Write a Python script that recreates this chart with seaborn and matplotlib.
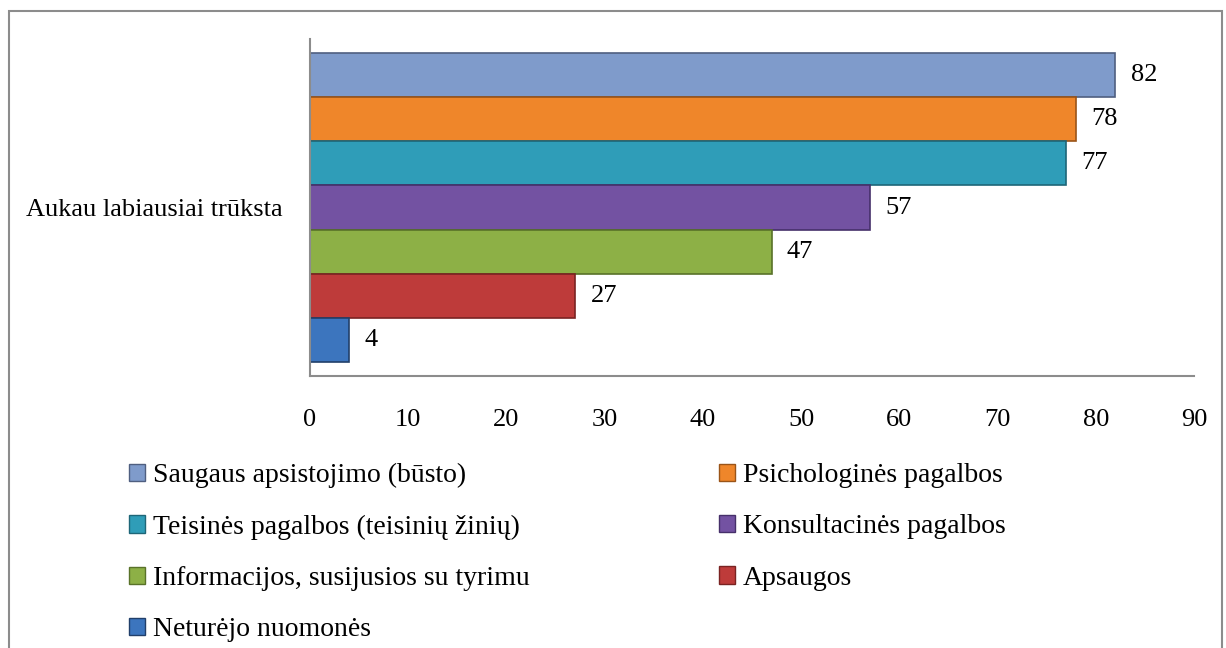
import matplotlib
matplotlib.use("Agg")
import matplotlib.pyplot as plt
import seaborn as sns
import pandas as pd
from matplotlib.patches import Rectangle

category = ["Aukau labiausiai trūksta"]
series = ["Saugaus apsistojimo (būsto)", "Psichologinės pagalbos",
          "Teisinės pagalbos (teisinių žinių)", "Konsultacinės pagalbos",
          "Informacijos, susijusios su tyrimu", "Apsaugos",
          "Neturėjo nuomonės"]
values = [82, 78, 77, 57, 47, 27, 4]
xticks = [0, 10, 20, 30, 40, 50, 60, 70, 80, 90]
colors = ["#7F9BCB", "#EF862A", "#2F9DB8", "#7352A2", "#8DB046", "#BE3B3A", "#3C75BE"]
edges = ["#4F5F80", "#9A5418", "#1E6678", "#46306A", "#597229", "#7A2322", "#213F6A"]

df = pd.DataFrame({"cat": category * len(series), "series": series, "value": values})

sns.set_theme(style="white")
plt.rcParams["font.family"] = ["Liberation Serif", "DejaVu Serif"]
plt.rcParams["text.color"] = "black"
plt.rcParams["xtick.color"] = "black"
plt.rcParams["ytick.color"] = "black"
plt.rcParams["axes.labelcolor"] = "black"
FS = 19
LFS = 20

fig = plt.figure(figsize=(12.26, 6.48), dpi=100)
ax = fig.add_axes([310 / 1226, 1 - 376 / 648, (1194 - 310) / 1226, (376 - 39) / 648])

sns.barplot(data=df, y="cat", x="value", hue="series", hue_order=series,
            palette=colors, orient="h", width=0.914, dodge=True, ax=ax,
            legend=False, saturation=1)

for patch, ec in zip(ax.patches, edges):
    patch.set_edgecolor(ec)
    patch.set_linewidth(1.2)

for patch, v in zip(ax.patches, values):
    y = patch.get_y() + patch.get_height() / 2
    ax.annotate(str(v), (patch.get_width(), y), xytext=(11, 0),
                textcoords="offset points", va="center", ha="left",
                fontsize=FS, color="black")

ax.set_xlim(0, 90)
ax.set_ylim(0.5, -0.5)
ax.set_xticks(xticks)
ax.set_xticklabels([str(t) for t in xticks], fontsize=FS)
ax.tick_params(axis="x", length=0, pad=24, colors="black")
ax.tick_params(axis="y", length=0, pad=20, labelsize=FS, colors="black")
ax.set_xlabel("")
ax.set_ylabel("")
for s in ["top", "right"]:
    ax.spines[s].set_visible(False)
for s in ["left", "bottom"]:
    ax.spines[s].set_color("#8C8C8C")
    ax.spines[s].set_linewidth(1.5)

# legend: two columns placed separately
handles = [Rectangle((0, 0), 1, 1, facecolor=c, edgecolor=e, linewidth=1)
           for c, e in zip(colors, edges)]
kw = dict(loc="upper left", frameon=False, fontsize=LFS, handlelength=0.58,
          handleheight=0.58, handletextpad=0.28, labelspacing=0.95,
          borderaxespad=0, borderpad=0, labelcolor="black")
left_idx = [0, 2, 4, 6]
right_idx = [1, 3, 5]
leg1 = fig.legend([handles[i] for i in left_idx], [series[i] for i in left_idx],
                  bbox_to_anchor=(129 / 1226, 1 - 463 / 648), **kw)
leg2 = fig.legend([handles[i] for i in right_idx], [series[i] for i in right_idx],
                  bbox_to_anchor=(719 / 1226, 1 - 463 / 648), **kw)

# outer frame
fig.add_artist(Rectangle((9 / 1226, -0.05), (1222 - 9) / 1226, 1 - 11 / 648 + 0.05,
                         transform=fig.transFigure, fill=False,
                         edgecolor="#8C8C8C", linewidth=1.5))

fig.savefig("out.png", dpi=100)
